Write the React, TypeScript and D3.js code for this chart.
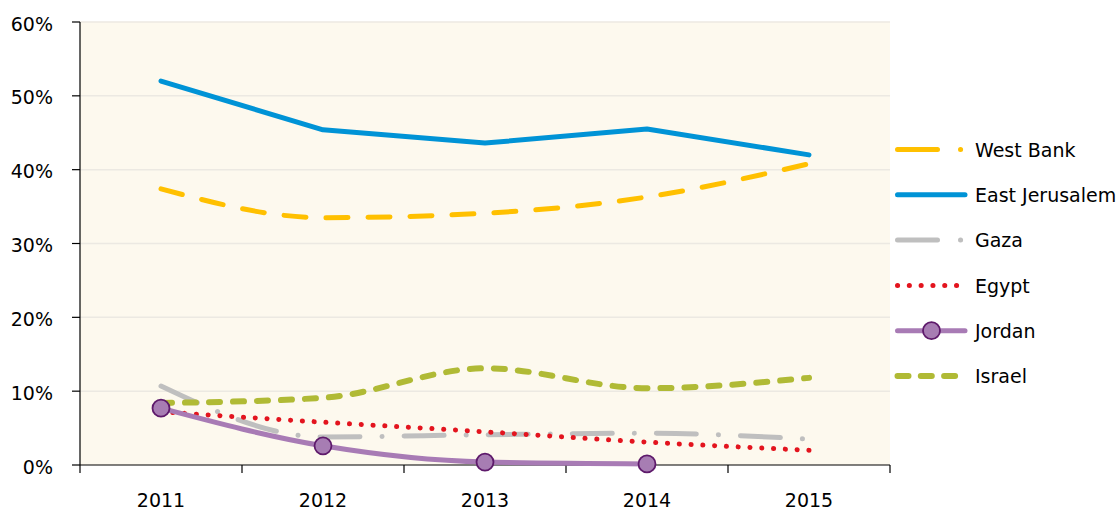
import React from "react";
import * as d3 from "d3";

const years = ["2011", "2012", "2013", "2014", "2015"];
const yTicks = [0, 10, 20, 30, 40, 50, 60];

const westBank = [37.4, 33.5, 34.1, 36.3, 40.8];
const eastJerusalem = [52.0, 45.4, 43.6, 45.5, 42.0];
const gaza = [10.7, 3.8, 4.1, 4.3, 3.5];
const egypt = [7.2, 5.8, 4.5, 3.1, 2.0];
const jordan = [7.7, 2.6, 0.4, 0.15];
const israel = [8.4, 9.1, 13.1, 10.4, 11.8];

type S = {
  name: string;
  values: number[];
  color: string;
  width: number;
  dash: string;
  legendDash: string;
  curve: any;
  marker?: boolean;
};

const series: S[] = [
  { name: "West Bank", values: westBank, color: "#FFC000", width: 5, dash: "22,20", legendDash: "40,23,0.1,100", curve: d3.curveMonotoneX },
  { name: "East Jerusalem", values: eastJerusalem, color: "#0093D6", width: 5, dash: "", legendDash: "", curve: d3.curveLinear },
  { name: "Gaza", values: gaza, color: "#BFBFBF", width: 5, dash: "40,22,0.1,22", legendDash: "40,23,0.1,100", curve: d3.curveMonotoneX },
  { name: "Egypt", values: egypt, color: "#E3141E", width: 5, dash: "0.1,11.7", legendDash: "0.1,11.7", curve: d3.curveMonotoneX },
  { name: "Jordan", values: jordan, color: "#A87BB5", width: 5, dash: "", legendDash: "", curve: d3.curveMonotoneX, marker: true },
  { name: "Israel", values: israel, color: "#B0BA35", width: 6, dash: "11,13", legendDash: "11,12.3", curve: d3.curveMonotoneX },
];

const order = ["Gaza", "Egypt", "Israel", "West Bank", "East Jerusalem", "Jordan"];

export default function App() {
  const W = 1116, H = 511;
  const left = 80, right = 890, top = 22, bottom = 465;
  const x = d3.scaleBand<string>().domain(years).range([left, right]);
  const y = d3.scaleLinear().domain([0, 60]).range([bottom, top]);
  const font = "'DejaVu Sans', sans-serif";
  const fs = 19;
  const cx = (i: number) => (x(years[i]) as number) + x.bandwidth() / 2;

  const lineGen = (s: S) =>
    d3.line<number>().x((_, i) => cx(i)).y((v) => y(v)).curve(s.curve)(s.values) || "";

  const bySeries = (n: string) => series.find((s) => s.name === n)!;

  return (
    <svg width={W} height={H} style={{ position: "absolute", left: 0, top: 0 }}>
      <rect x={0} y={0} width={W} height={H} fill="#fff" />
      <rect x={left} y={top} width={right - left} height={bottom - top} fill="#FDF9EE" />
      {yTicks.map((t) => (
        <g key={t}>
          {t > 0 && <line x1={left} x2={right} y1={y(t)} y2={y(t)} stroke="#ECE9E2" strokeWidth={1.5} />}
          <line x1={left - 8} x2={left} y1={y(t)} y2={y(t)} stroke="#000" strokeWidth={1.2} />
          <text x={53} y={y(t) + 8.5} textAnchor="end" fontFamily={font} fontSize={fs} fill="#000">
            {t}%
          </text>
        </g>
      ))}
      <line x1={left} x2={left} y1={top} y2={bottom + 8} stroke="#000" strokeWidth={1.2} />
      <line x1={left} x2={right} y1={bottom} y2={bottom} stroke="#000" strokeWidth={1.2} />
      {years.map((yr, i) => (
        <g key={yr}>
          <line x1={(x(yr) as number) + x.bandwidth()} x2={(x(yr) as number) + x.bandwidth()} y1={bottom} y2={bottom + 8} stroke="#000" strokeWidth={1.2} />
          <text x={cx(i)} y={507} textAnchor="middle" fontFamily={font} fontSize={fs} fill="#000">{yr}</text>
        </g>
      ))}
      {order.map((n) => {
        const s = bySeries(n);
        return (
          <g key={n}>
            <path d={lineGen(s)} fill="none" stroke={s.color} strokeWidth={s.width}
              strokeDasharray={s.dash || undefined} strokeLinecap="round" strokeLinejoin="round" />
            {s.marker && s.values.map((v, i) => (
              <circle key={i} cx={cx(i)} cy={y(v)} r={8.5} fill="#A77DB3" stroke="#5E1A6B" strokeWidth={1.8} />
            ))}
          </g>
        );
      })}
      {series.map((s, i) => {
        const ly = 149.5 + i * 45.3;
        return (
          <g key={s.name}>
            <line x1={897.5} x2={965} y1={ly} y2={ly} stroke={s.color} strokeWidth={s.width}
              strokeDasharray={s.legendDash || undefined} strokeLinecap="round" />
            {s.marker && <circle cx={931.5} cy={ly} r={8.5} fill="#A77DB3" stroke="#5E1A6B" strokeWidth={1.8} />}
            <text x={975} y={ly + 7.3} fontFamily={font} fontSize={fs} fill="#000">{s.name}</text>
          </g>
        );
      })}
    </svg>
  );
}
